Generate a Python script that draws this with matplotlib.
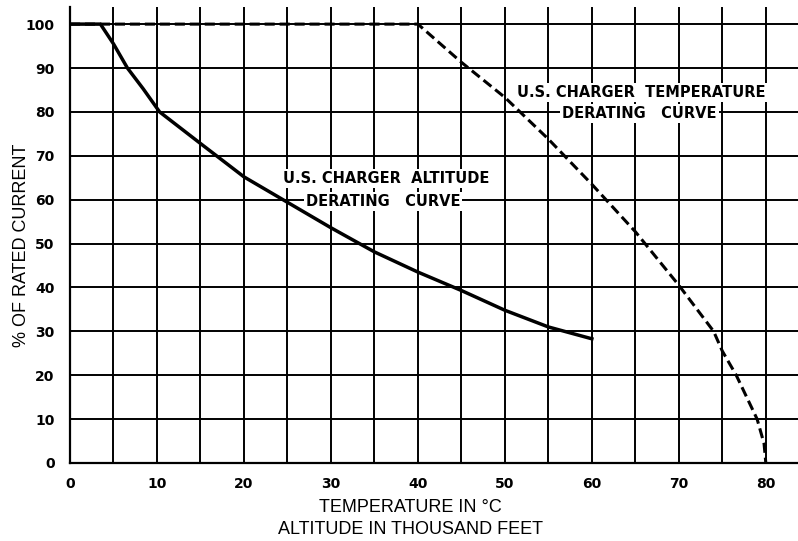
import matplotlib.pyplot as plt
from matplotlib.ticker import MultipleLocator

# altitude derating curve (solid), x = thousand feet
alt_x = [0, 3.5, 5, 6.6, 8.4, 10.3, 15, 20, 25, 30, 35, 40, 45, 50, 55, 60]
alt_y = [100, 100, 95.5, 90, 85.3, 80, 72.8, 65.2, 59.4, 53.6, 48.1, 43.5, 39.3, 34.8, 31, 28.3]

# temperature derating curve (dashed), x = deg C
temp_x = [0, 40, 45, 50, 55, 60, 65, 70, 74, 75, 76.6, 79, 79.8, 80]
temp_y = [100, 100, 91.3, 83.3, 73.8, 63.5, 52.7, 40.5, 30, 25.5, 20, 10, 4.4, 0]

x_ticks = [0, 10, 20, 30, 40, 50, 60, 70, 80]
y_ticks = [0, 10, 20, 30, 40, 50, 60, 70, 80, 90, 100]

fig = plt.figure(figsize=(7.98, 5.41), dpi=100)
ax = fig.add_axes([70 / 798, 1 - 463 / 541, 728 / 798, 456 / 541])

ax.set_xlim(0, 83.7)
ax.set_ylim(0, 103.9)

ax.set_xticks(x_ticks)
ax.xaxis.set_minor_locator(MultipleLocator(5))
ax.set_yticks(y_ticks)
ax.grid(which="both", color="black", linewidth=1.4, zorder=0)
ax.tick_params(which="both", length=0)
ax.tick_params(axis="x", pad=10)
ax.tick_params(axis="y", pad=11)
for lab in ax.get_xticklabels() + ax.get_yticklabels():
    lab.set_fontweight("bold")
    lab.set_fontsize(10)

for side in ["top", "right"]:
    ax.spines[side].set_visible(False)
for side in ["left", "bottom"]:
    ax.spines[side].set_linewidth(1.6)

ax.plot(temp_x, temp_y, color="black", linewidth=2.2,
        linestyle=(0, (3.3, 1.6)), zorder=4)
ax.plot(alt_x, alt_y, color="black", linewidth=2.5, zorder=5)

box = dict(facecolor="white", edgecolor="none", pad=1.5)
lbl = dict(fontsize=10.5, fontweight="bold", ha="center", va="center",
           bbox=box, zorder=3)
ax.text(36.3, 64.9, "U.S. CHARGER  ALTITUDE", **lbl)
ax.text(36.0, 59.5, "DERATING   CURVE", **lbl)
ax.text(65.7, 84.4, "U.S. CHARGER  TEMPERATURE", **lbl)
ax.text(65.5, 79.6, "DERATING   CURVE", **lbl)

ax.set_ylabel("% OF RATED CURRENT", fontsize=13, family="Liberation Sans")
ax.yaxis.set_label_coords(-0.055, 0.478)
ax.set_xlabel("TEMPERATURE IN °C\nALTITUDE IN THOUSAND FEET", fontsize=13,
              family="Liberation Sans", linespacing=1.35)
ax.xaxis.set_label_coords(0.468, -0.079)

fig.savefig("out.png", dpi=100)
